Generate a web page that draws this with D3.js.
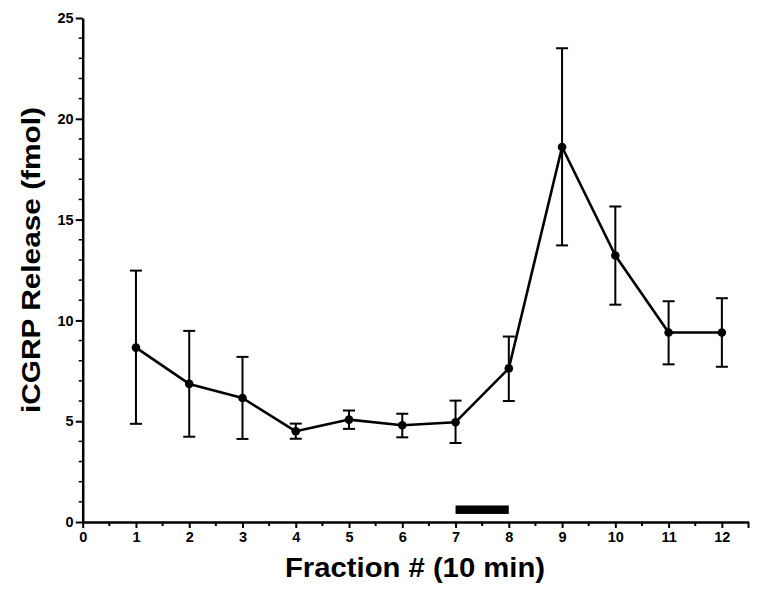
<!DOCTYPE html>
<html><head><meta charset="utf-8">
<script src="https://cdn.jsdelivr.net/npm/d3@7"></script>
<style>body{margin:0;background:#fff}svg{display:block}</style>
</head><body>
<svg id="c" width="762" height="596"></svg>
<script>
const fractions = [1,2,3,4,5,6,7,8,9,10,11,12];
const means = [8.65,6.85,6.15,4.5,5.08,4.8,4.95,7.62,18.6,13.22,9.4,9.4];
const lows  = [4.87,4.23,4.12,4.13,4.62,4.2,3.92,6.0,13.72,10.78,7.82,7.7];
const highs = [12.47,9.48,8.19,4.88,5.53,5.37,6.02,9.2,23.5,15.65,10.95,11.1];
const xTicks = [0,1,2,3,4,5,6,7,8,9,10,11,12];
const yTicks = [0,5,10,15,20,25];
const stimulus = [{x0:7, x1:8, y0:0.4, y1:0.82}];

const svg = d3.select("#c");
const x = d3.scaleLinear().domain([0,12.5]).range([82.7,748.5]);
const y = d3.scaleLinear().domain([0,25]).range([522,18]);
const font = "'Liberation Sans', Arial, Helvetica, sans-serif";

const xMinor = d3.range(0.5,12.5,1);
const yMinor = d3.range(0,25,1).filter(v=>v%5!==0);

svg.append("g").selectAll("line").data(xMinor).join("line")
  .attr("x1",d=>x(d)).attr("x2",d=>x(d)).attr("y1",y(0)).attr("y2",y(0)+4)
  .attr("stroke","#000").attr("stroke-width",2);
svg.append("g").selectAll("line").data(yMinor).join("line")
  .attr("x1",x(0)-4).attr("x2",x(0)).attr("y1",d=>y(d)).attr("y2",d=>y(d))
  .attr("stroke","#000").attr("stroke-width",1.5);

const xAxis = svg.append("g").attr("transform",`translate(0,${y(0)})`)
  .call(d3.axisBottom(x).tickValues(xTicks).tickSize(6).tickSizeOuter(0).tickPadding(4));
const yAxis = svg.append("g").attr("transform",`translate(${x(0)},0)`)
  .call(d3.axisLeft(y).tickValues(yTicks).tickSize(7).tickSizeOuter(0).tickPadding(2));
[xAxis,yAxis].forEach(g=>{
  g.select(".domain").attr("stroke","#000").attr("stroke-width",2.5);
  g.selectAll(".tick line").attr("stroke","#000").attr("stroke-width",2);
  g.selectAll(".tick text").attr("fill","#000").style("font-family",font)
    .style("font-size","14.5px").style("font-weight","bold");
});
svg.append("line").attr("x1",x(12.5)).attr("x2",x(12.5)).attr("y1",y(0)).attr("y2",y(0)+6)
  .attr("stroke","#000").attr("stroke-width",2);

svg.selectAll("rect.stim").data(stimulus).join("rect").attr("class","stim")
  .attr("x",d=>x(d.x0)).attr("width",d=>x(d.x1)-x(d.x0))
  .attr("y",d=>y(d.y1)).attr("height",d=>y(d.y0)-y(d.y1)).attr("fill","#000");

const data = fractions.map((f,i)=>({f, m:means[i], lo:lows[i], hi:highs[i]}));

const eb = svg.append("g").attr("stroke","#000").attr("stroke-width",2);
eb.selectAll("line.v").data(data).join("line")
  .attr("x1",d=>x(d.f)).attr("x2",d=>x(d.f)).attr("y1",d=>y(d.lo)).attr("y2",d=>y(d.hi));
eb.selectAll("line.t").data(data).join("line")
  .attr("x1",d=>x(d.f)-6).attr("x2",d=>x(d.f)+6).attr("y1",d=>y(d.hi)).attr("y2",d=>y(d.hi));
eb.selectAll("line.b").data(data).join("line")
  .attr("x1",d=>x(d.f)-6).attr("x2",d=>x(d.f)+6).attr("y1",d=>y(d.lo)).attr("y2",d=>y(d.lo));

svg.append("path").datum(data)
  .attr("d",d3.line().x(d=>x(d.f)).y(d=>y(d.m)))
  .attr("fill","none").attr("stroke","#000").attr("stroke-width",2.6).attr("stroke-linejoin","round");

svg.append("g").selectAll("circle").data(data).join("circle")
  .attr("cx",d=>x(d.f)).attr("cy",d=>y(d.m)).attr("r",4.3).attr("fill","#000");

svg.append("text").attr("x",415).attr("y",577).attr("text-anchor","middle")
  .attr("textLength",260).attr("lengthAdjust","spacingAndGlyphs")
  .style("font-family",font).style("font-size","28px").style("font-weight","bold")
  .text("Fraction # (10 min)");
svg.append("text").attr("transform",`translate(40,260) rotate(-90)`).attr("text-anchor","middle")
  .attr("textLength",306).attr("lengthAdjust","spacingAndGlyphs")
  .style("font-family",font).style("font-size","25px").style("font-weight","bold")
  .text("iCGRP Release (fmol)");
</script>
</body></html>
